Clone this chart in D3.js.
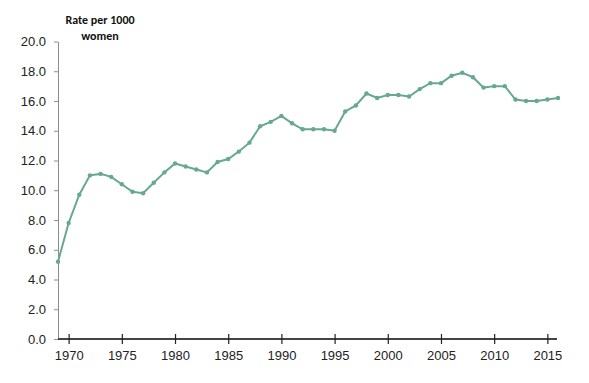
<!DOCTYPE html>
<html>
<head>
<meta charset="utf-8">
<script src="https://cdn.jsdelivr.net/npm/d3@7"></script>
<style>
  body { margin: 0; background: #fff; }
  svg { display: block; font-family: Calibri, Carlito, "Open Sans", sans-serif; }
</style>
</head>
<body>
<svg></svg>
<script>
// rate per 1000 women, 1969-2016
var years = d3.range(1969, 2017);
var rates = [5.2, 7.8, 9.7, 11.0, 11.1, 10.9, 10.4, 9.9, 9.8, 10.5, 11.2, 11.8,
  11.6, 11.4, 11.2, 11.9, 12.1, 12.6, 13.2, 14.3, 14.6, 15.0, 14.5, 14.1,
  14.1, 14.1, 14.0, 15.3, 15.7, 16.5, 16.2, 16.4, 16.4, 16.3, 16.8, 17.2,
  17.2, 17.7, 17.9, 17.6, 16.9, 17.0, 17.0, 16.1, 16.0, 16.0, 16.1, 16.2];
var xTicks = [1970, 1975, 1980, 1985, 1990, 1995, 2000, 2005, 2010, 2015];
var yTicks = d3.range(0, 21, 2);

var width = 589, height = 383;
var svg = d3.select('svg').attr('width', width).attr('height', height);

var data = years.map(function(y, i) { return {year: y, rate: rates[i]}; });

var x = d3.scaleLinear().domain([1969, 2016]).range([58, 558]);
var y = d3.scaleLinear().domain([0, 20]).range([339, 41.5]);

// y axis
var yAxis = svg.append('g')
  .attr('transform', 'translate(' + x(1969) + ',0)')
  .call(d3.axisLeft(y).tickValues(yTicks).tickFormat(d3.format('.1f')).tickSize(4).tickSizeOuter(0));
yAxis.select('.domain').attr('stroke', '#8c8c8c');
yAxis.selectAll('.tick line').attr('stroke', '#8c8c8c');
yAxis.selectAll('.tick text').attr('x', -12).attr('font-size', 13).attr('fill', '#222');

// x axis
var xAxis = svg.append('g')
  .attr('transform', 'translate(0,' + y(0) + ')')
  .call(d3.axisBottom(x).tickValues(xTicks).tickFormat(d3.format('d')).tickSize(5).tickSizeOuter(0));
xAxis.select('.domain').attr('stroke', '#444').attr('stroke-width', 2)
  .attr('d', 'M' + x(1969) + ',0H' + (x(2016) - 1));
xAxis.selectAll('.tick line').attr('y1', -5).attr('stroke', '#222').attr('stroke-width', 1.2);
xAxis.selectAll('.tick text').attr('y', 12).attr('font-size', 13).attr('fill', '#222');

// line
var line = d3.line().x(d => x(d.year)).y(d => y(d.rate));
svg.append('path')
  .datum(data)
  .attr('fill', 'none')
  .attr('stroke', '#66a893')
  .attr('stroke-width', 2)
  .attr('d', line);

svg.append('g').selectAll('circle')
  .data(data)
  .enter().append('circle')
  .attr('cx', d => x(d.year))
  .attr('cy', d => y(d.rate))
  .attr('r', 2.2)
  .attr('fill', '#66a893');

// title
var title = svg.append('text')
  .attr('x', 100).attr('y', 24)
  .attr('text-anchor', 'middle')
  .attr('font-size', 12)
  .attr('font-weight', 'bold')
  .attr('fill', '#111');
title.append('tspan').attr('x', 100).text('Rate per 1000');
title.append('tspan').attr('x', 100).attr('dy', 16).text('women');
</script>
</body>
</html>
